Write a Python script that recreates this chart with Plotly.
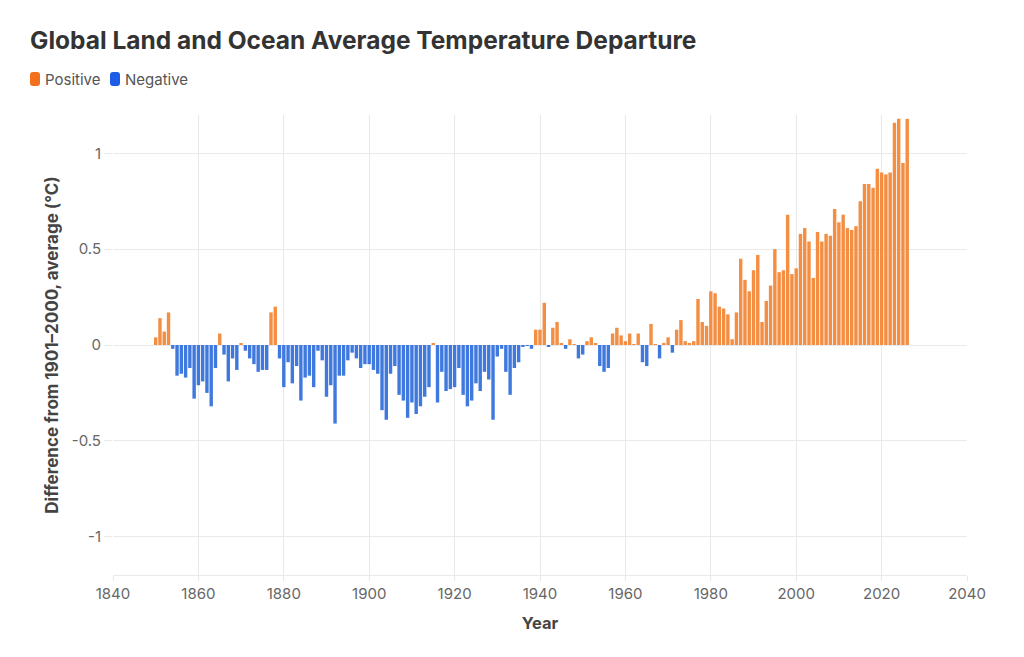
import plotly.graph_objects as go

years = list(range(1850, 2027))
anomaly = [
    0.04, 0.14, 0.07, 0.17, -0.02, -0.16, -0.15, -0.17, -0.12, -0.28,   # 1850-1859
    -0.21, -0.19, -0.25, -0.32, -0.12, 0.06, -0.05, -0.19, -0.07, -0.13,  # 1860-1869
    0.01, -0.03, -0.07, -0.10, -0.14, -0.13, -0.13, 0.17, 0.20, -0.07,    # 1870-1879
    -0.22, -0.09, -0.20, -0.11, -0.29, -0.17, -0.16, -0.22, -0.03, -0.08, # 1880-1889
    -0.27, -0.21, -0.41, -0.16, -0.16, -0.08, -0.04, -0.07, -0.12, -0.10, # 1890-1899
    -0.10, -0.13, -0.15, -0.34, -0.39, -0.15, -0.11, -0.26, -0.29, -0.38, # 1900-1909
    -0.30, -0.36, -0.32, -0.27, -0.22, 0.01, -0.30, -0.14, -0.24, -0.23,  # 1910-1919
    -0.22, -0.12, -0.26, -0.32, -0.29, -0.20, -0.24, -0.14, -0.18, -0.39, # 1920-1929
    -0.06, -0.02, -0.14, -0.26, -0.12, -0.09, -0.01, -0.005, -0.02, 0.08, # 1930-1939
    0.08, 0.22, -0.01, 0.09, 0.12, 0.01, -0.02, 0.03, 0.003, -0.07,       # 1940-1949
    -0.05, 0.02, 0.04, 0.01, -0.11, -0.14, -0.12, 0.06, 0.09, 0.05,       # 1950-1959
    0.02, 0.06, 0.003, 0.06, -0.09, -0.11, 0.11, 0.005, -0.07, 0.01,      # 1960-1969
    0.04, -0.04, 0.08, 0.13, 0.02, 0.01, 0.02, 0.24, 0.12, 0.10,          # 1970-1979
    0.28, 0.27, 0.20, 0.19, 0.16, 0.03, 0.17, 0.45, 0.34, 0.28,           # 1980-1989
    0.39, 0.47, 0.12, 0.23, 0.31, 0.50, 0.38, 0.39, 0.68, 0.37,           # 1990-1999
    0.40, 0.58, 0.61, 0.54, 0.35, 0.59, 0.54, 0.58, 0.57, 0.71,           # 2000-2009
    0.64, 0.68, 0.61, 0.60, 0.62, 0.75, 0.84, 0.84, 0.82, 0.92,           # 2010-2019
    0.90, 0.89, 0.90, 1.16, 1.18, 0.95, 1.18,                             # 2020-2026
]

series_names = ["Positive", "Negative"]
series_colors = ["#F38E42", "#4079DE"]
legend_colors = ["#F2701E", "#1C5CE6"]

x_ticks = [1840, 1860, 1880, 1900, 1920, 1940, 1960, 1980, 2000, 2020, 2040]
y_ticks = [-1, -0.5, 0, 0.5, 1]
y_ticktext = ["-1", "-0.5", "0", "0.5", "1"]

pos_x = [y for y, v in zip(years, anomaly) if v >= 0]
pos_y = [v for v in anomaly if v >= 0]
neg_x = [y for y, v in zip(years, anomaly) if v < 0]
neg_y = [v for v in anomaly if v < 0]

FONT = "Inter, 'Noto Sans', sans-serif"
GRID = "#e9e9e9"

# figure geometry (page body adds 8px offset)
W, H = 1008, 641
L, R, T, B = 105, 49, 107, 74
PW, PH = W - L - R, H - T - B


def px_to_paper(fx, fy):
    return (fx - L) / PW, 1 - (fy - T) / PH


fig = go.Figure()
fig.add_trace(go.Bar(x=pos_x, y=pos_y, name=series_names[0],
                     marker=dict(color=series_colors[0], line=dict(width=0)),
                     width=0.8, showlegend=False))
fig.add_trace(go.Bar(x=neg_x, y=neg_y, name=series_names[1],
                     marker=dict(color=series_colors[1], line=dict(width=0)),
                     width=0.8, showlegend=False))

# custom legend (rounded swatches + labels)
shapes = []
annotations = []
legend_items = [(22, series_names[0], legend_colors[0]), (102, series_names[1], legend_colors[1])]
for sx, name, col in legend_items:
    xl, yt = px_to_paper(sx, 64)
    xr, yb = px_to_paper(sx + 10, 78)
    rx = 3 / PW
    ry = 3 / PH
    path = (f"M {xl+rx},{yb} L {xr-rx},{yb} Q {xr},{yb} {xr},{yb+ry} "
            f"L {xr},{yt-ry} Q {xr},{yt} {xr-rx},{yt} L {xl+rx},{yt} "
            f"Q {xl},{yt} {xl},{yt-ry} L {xl},{yb+ry} Q {xl},{yb} {xl+rx},{yb} Z")
    shapes.append(dict(type="path", path=path, xref="paper", yref="paper",
                       fillcolor=col, line=dict(width=0)))
    tx, ty = px_to_paper(sx + 13, 71)
    annotations.append(dict(text=name, x=tx, y=ty, xref="paper", yref="paper",
                            xanchor="left", yanchor="middle", showarrow=False,
                            font=dict(size=15, color="#555555", family=FONT)))

fig.update_layout(
    width=W, height=H,
    margin=dict(l=L, r=R, t=T, b=B, autoexpand=False),
    paper_bgcolor="white", plot_bgcolor="white",
    barmode="overlay",
    font=dict(family=FONT, color="#555555"),
    title=dict(text="<b>Global Land and Ocean Average Temperature Departure</b>",
               x=22 / W, xanchor="left", xref="container",
               y=1 - 32 / H, yanchor="middle", yref="container",
               font=dict(size=24.5, color="#333333", family=FONT)),
    showlegend=False,
    shapes=shapes,
    annotations=annotations,
)

fig.update_xaxes(range=[1840, 2040], tickvals=x_ticks,
                 showgrid=True, gridcolor=GRID, gridwidth=1,
                 zeroline=False, showline=True, linecolor=GRID, linewidth=1,
                 automargin=False,
                 ticks="outside", ticklen=5, tickcolor=GRID, ticklabelstandoff=0,
                 tickfont=dict(size=15, color="#666666"),
                 title=dict(text="<b>Year</b>", font=dict(size=16.5, color="#444444"), standoff=15))
fig.update_yaxes(range=[-1.2, 1.2], tickvals=y_ticks, ticktext=y_ticktext,
                 showgrid=True, gridcolor=GRID, gridwidth=1,
                 zeroline=True, zerolinecolor=GRID, zerolinewidth=1,
                 showline=False, automargin=False,
                 ticks="outside", ticklen=8, tickcolor=GRID,
                 tickfont=dict(size=15, color="#666666"),
                 title=dict(text="<b>Difference from 1901–2000, average (°C)</b>",
                            font=dict(size=17, color="#444444"), standoff=8))

fig.write_html("out.html")
